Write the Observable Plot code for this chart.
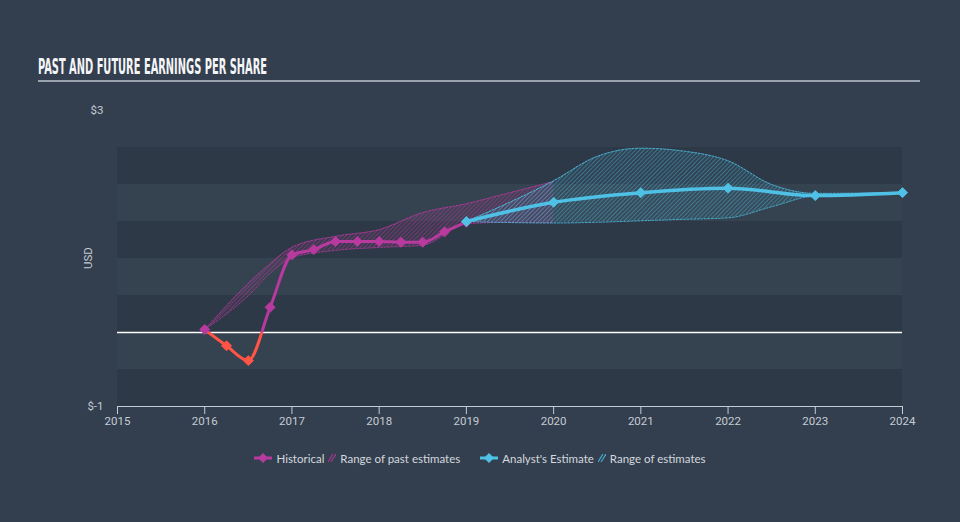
<!DOCTYPE html>
<html><head><meta charset="utf-8">
<script src="https://cdn.jsdelivr.net/npm/d3@7"></script>
<script src="https://cdn.jsdelivr.net/npm/@observablehq/plot@0.6"></script>
<style>
html,body{margin:0;padding:0;background:#333f4f;}
#wrap{position:relative;width:960px;height:522px;background:#333f4f;overflow:hidden;font-family:Lato,"Open Sans",sans-serif;}
#title{position:absolute;left:38px;top:56px;height:22px;line-height:22px;font-family:"DejaVu Sans Condensed","DejaVu Sans",sans-serif;font-weight:bold;font-size:21px;color:#f3f5f7;white-space:nowrap;transform-origin:0 0;}
#rule{position:absolute;left:38px;top:80px;width:882px;height:2px;background:#9aa3ad;}
#chart{position:absolute;left:0;top:0;}
#legend{position:absolute;left:0;top:449px;width:960px;height:18px;display:flex;justify-content:center;align-items:center;font-size:11.5px;color:#d3d8de;white-space:nowrap;}
#legend .it{display:inline-flex;align-items:center;}
#legend svg{margin-right:4px;}
</style></head>
<body><div id="wrap">
<div id="title">PAST AND FUTURE EARNINGS PER SHARE</div>
<div id="rule"></div>
<div id="chart"></div>
<div id="legend"></div>
</div>
<script>
// ---- data ----
const tickYears = [2015, 2016, 2017, 2018, 2019, 2020, 2021, 2022, 2023, 2024];
const yTicks = [-1, 3];
const histYears = [2016, 2016.25, 2016.5, 2016.75, 2017, 2017.25, 2017.5, 2017.75, 2018, 2018.25, 2018.5, 2018.75, 2019];
const histEps = [0.04, -0.18, -0.38, 0.34, 1.05, 1.12, 1.23, 1.23, 1.23, 1.22, 1.22, 1.36, 1.49];
const estYears = [2019, 2020, 2021, 2022, 2023, 2024];
const estEps = [1.50, 1.76, 1.89, 1.95, 1.85, 1.89];
const pastRangeYears = [2016, 2016.5, 2016.75, 2017, 2017.5, 2018, 2018.5, 2019, 2019.5, 2020];
const pastRangeLow = [0.04, 0.50, 0.80, 1.01, 1.11, 1.15, 1.18, 1.47, 1.49, 1.49];
const pastRangeHigh = [0.04, 0.66, 0.93, 1.15, 1.30, 1.39, 1.62, 1.74, 1.89, 2.04];
const estRangeYears = [2019, 2020, 2020.5, 2021, 2021.5, 2022, 2022.5, 2023, 2024];
const estRangeLow = [1.50, 1.48, 1.49, 1.51, 1.53, 1.55, 1.70, 1.85, 1.89];
const estRangeHigh = [1.50, 2.05, 2.38, 2.49, 2.45, 2.32, 2.00, 1.88, 1.89];
const darkBandLo = [2, 1, 0, -1];
const lightBandLo = [1.5, 0.5, -0.5];
const bandStep = 0.5;

const magenta = "#b83a9e", red = "#ff5446", cyan = "#4fc1e6";
const txt = "#c5cbd2";

// ---- tables ----
const hist = histYears.map((x, i) => ({x, y: histEps[i]}));
const est = estYears.map((x, i) => ({x, y: estEps[i]}));
const pastR = pastRangeYears.map((x, i) => ({x, lo: pastRangeLow[i], hi: pastRangeHigh[i]}));
const estR = estRangeYears.map((x, i) => ({x, lo: estRangeLow[i], hi: estRangeHigh[i]}));
const x0 = tickYears[0], x1 = tickYears[tickYears.length - 1];
const darkBands = darkBandLo.map(lo => ({x1: x0, x2: x1, y1: lo, y2: lo + bandStep}));
const lightBands = lightBandLo.map(lo => ({x1: x0, x2: x1, y1: lo, y2: lo + bandStep}));

const H = 440;
const plot = Plot.plot({
  width: 960, height: H,
  marginLeft: 117, marginRight: 58, marginTop: 110, marginBottom: 34,
  style: {background: "transparent", color: txt, fontSize: "11.5px", fontFamily: "Roboto, sans-serif", overflow: "visible"},
  x: {domain: [x0, x1], ticks: tickYears, tickFormat: d => String(d), tickSize: 8, tickPadding: 2, label: null},
  y: {domain: [yTicks[0], yTicks[1]], ticks: yTicks, tickFormat: d => "$" + d, tickSize: 0, tickPadding: 14, label: null},
  marks: [
    Plot.rect(darkBands, {x1: "x1", x2: "x2", y1: "y1", y2: "y2", fill: "#2e3947"}),
    Plot.rect(lightBands, {x1: "x1", x2: "x2", y1: "y1", y2: "y2", fill: "#35424f"}),
    Plot.areaY(pastR, {x: "x", y1: "lo", y2: "hi", fill: magenta, fillOpacity: 0.18, curve: "monotone-x", ariaDescription: "past-band"}),
    Plot.line(pastR, {x: "x", y: "hi", stroke: magenta, strokeWidth: 1, strokeDasharray: "2,1.5", strokeOpacity: 0.85, curve: "monotone-x"}),
    Plot.line(pastR, {x: "x", y: "lo", stroke: magenta, strokeWidth: 1, strokeDasharray: "2,1.5", strokeOpacity: 0.85, curve: "monotone-x"}),
    Plot.areaY(estR, {x: "x", y1: "lo", y2: "hi", fill: cyan, fillOpacity: 0.18, curve: "monotone-x", ariaDescription: "est-band"}),
    Plot.line(estR, {x: "x", y: "hi", stroke: cyan, strokeWidth: 1, strokeDasharray: "2,1.5", strokeOpacity: 0.85, curve: "monotone-x"}),
    Plot.line(estR, {x: "x", y: "lo", stroke: cyan, strokeWidth: 1, strokeDasharray: "2,1.5", strokeOpacity: 0.85, curve: "monotone-x"}),
    Plot.ruleY([0], {x1: x0, x2: x1, stroke: "#ffffff", strokeWidth: 1.5}),
    Plot.ruleY([yTicks[0]], {x1: x0, x2: x1, stroke: txt, strokeWidth: 1}),
    Plot.line(hist, {x: "x", y: "y", stroke: magenta, strokeWidth: 3, curve: "monotone-x", ariaDescription: "hist-pos"}),
    Plot.line(hist, {x: "x", y: "y", stroke: red, strokeWidth: 3, curve: "monotone-x", ariaDescription: "hist-neg"}),
    Plot.line(est, {x: "x", y: "y", stroke: cyan, strokeWidth: 3.5, curve: "monotone-x"}),
    Plot.dot(hist, {x: "x", y: "y", filter: d => d.y >= 0, symbol: "diamond2", r: 4.5, fill: magenta, stroke: magenta, strokeWidth: 1}),
    Plot.dot(hist, {x: "x", y: "y", filter: d => d.y < 0, symbol: "diamond2", r: 4.5, fill: red, stroke: red, strokeWidth: 1}),
    Plot.dot(est, {x: "x", y: "y", symbol: "diamond2", r: 4.5, fill: cyan, stroke: cyan, strokeWidth: 1})
  ]
});
document.getElementById("chart").appendChild(plot);

const svg = d3.select(plot);
const defs = svg.insert("defs", ":first-child");
function hatch(id, color, op) {
  const p = defs.append("pattern").attr("id", id).attr("patternUnits", "userSpaceOnUse")
    .attr("width", 3).attr("height", 3).attr("patternTransform", "rotate(45)");
  p.append("rect").attr("width", 3).attr("height", 3).attr("fill", color).attr("fill-opacity", 0.08);
  p.append("line").attr("x1", 0.5).attr("y1", 0).attr("x2", 0.5).attr("y2", 3)
    .attr("stroke", color).attr("stroke-width", 0.9).attr("stroke-opacity", op);
}
hatch("hp", magenta, 0.5);
hatch("he", cyan, 0.42);
svg.selectAll('g[aria-description="past-band"], g[aria-description="past-band"] path').attr("fill", "url(#hp)").attr("fill-opacity", 1);
svg.selectAll('g[aria-description="est-band"], g[aria-description="est-band"] path').attr("fill", "url(#he)").attr("fill-opacity", 1);

// two-colour historical line: wrap each copy in a nested svg that crops at zero
const ys = plot.scale("y");
const y0 = ys.apply(0);
function crop(label, top, h) {
  const g = plot.querySelector(`g[aria-description="${label}"]`);
  if (!g) return;
  const ns = "http://www.w3.org/2000/svg";
  const box = document.createElementNS(ns, "svg");
  box.setAttribute("x", 0); box.setAttribute("y", top);
  box.setAttribute("width", 960); box.setAttribute("height", h);
  box.setAttribute("viewBox", `0 ${top} 960 ${h}`);
  box.setAttribute("overflow", "hidden");
  g.parentNode.insertBefore(box, g);
  box.appendChild(g);
}
crop("hist-pos", 0, y0);
crop("hist-neg", y0, H - y0);

// y axis title
svg.append("text").text("USD").attr("transform", "translate(89,258) rotate(-90)")
  .attr("text-anchor", "middle").attr("dominant-baseline", "middle")
  .attr("fill", txt).attr("font-size", 11.5).attr("font-family", "Roboto, sans-serif");

// title fit
const t = document.getElementById("title");
const tw = t.getBoundingClientRect().width;
t.style.transform = `scaleX(${229 / tw})`;

// legend
const legendItems = [
  {kind: "line", color: magenta, label: "Historical", gap: 4},
  {kind: "hatch", color: magenta, label: "Range of past estimates", gap: 20},
  {kind: "line", color: cyan, label: "Analyst's Estimate", gap: 4},
  {kind: "hatch", color: cyan, label: "Range of estimates", gap: 0}
];
const leg = document.getElementById("legend");
legendItems.forEach(it => {
  const s = document.createElement("span");
  s.className = "it";
  s.style.marginRight = it.gap + "px";
  const icon = it.kind === "line"
    ? `<svg width="18" height="12"><line x1="0" y1="6" x2="18" y2="6" stroke="${it.color}" stroke-width="3"/><path d="M9 1 L14 6 L9 11 L4 6 Z" fill="${it.color}"/></svg>`
    : `<svg width="8" height="12"><line x1="0" y1="10" x2="5" y2="2" stroke="${it.color}" stroke-width="1.3" opacity="0.8"/><line x1="3" y1="10" x2="8" y2="2" stroke="${it.color}" stroke-width="1.3" opacity="0.8"/></svg>`;
  s.innerHTML = icon + `<span>${it.label}</span>`;
  leg.appendChild(s);
});
</script>
</body></html>
